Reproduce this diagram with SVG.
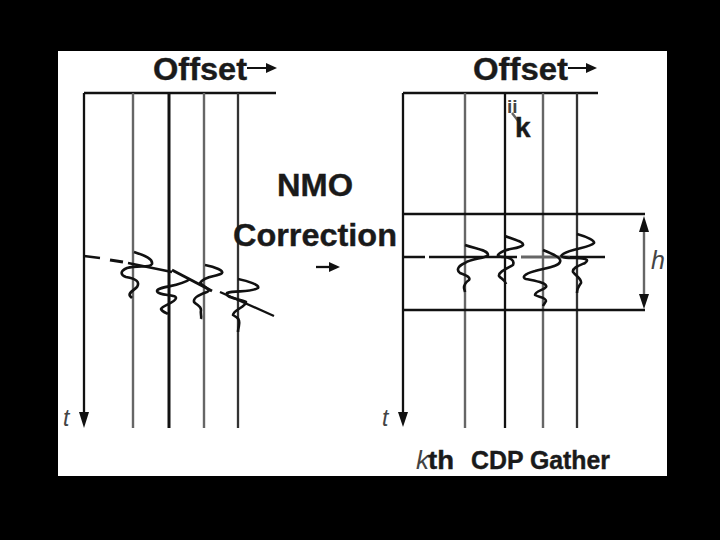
<svg xmlns="http://www.w3.org/2000/svg" width="720" height="540" viewBox="0 0 720 540">
<style>
.t{font-family:"Liberation Sans",Arial,sans-serif;font-weight:bold;fill:#1a1a1a;stroke:#1a1a1a;stroke-width:.4}
.i{font-family:"Liberation Sans",Arial,sans-serif;font-style:italic;fill:#444}
.l{stroke:#111;stroke-width:2.3;fill:none}
.g{stroke:#666;stroke-width:2.4;fill:none}
.w{stroke:#111;stroke-width:2.6;fill:none;stroke-linejoin:round}
.a{fill:#111}
</style>
<rect width="720" height="540" fill="#000"/>
<rect x="58" y="51" width="609" height="425" fill="#fff"/>
<g id="left-panel">
<path class="l" d="M84 93H276"/>
<path class="l" d="M84 93V415"/>
<path class="a" d="M79 412H89L84 428Z"/>
<path class="g" d="M133 93V428"/>
<path class="l" d="M169 93V428" style="stroke-width:3"/>
<path class="g" d="M204 93V428"/>
<path class="l" d="M238 93V428" style="stroke:#333"/>
<text class="t" x="153" y="80" font-size="32" textLength="94" lengthAdjust="spacingAndGlyphs">Offset</text>
<path class="l" d="M247 68H268" style="stroke-width:2"/><path class="a" d="M266 63L277 68L266 73Z"/>
<text class="i" x="63" y="426" font-size="23">t</text>
</g>
<g id="left-wiggles">
<path class="l" d="M84 256L100 258"/>
<path class="l" d="M110 260L123 262" style="stroke-width:3"/>
<path class="l" d="M128 263L172 272"/>
<path class="l" d="M172 270L212 291" style="stroke-width:3"/>
<path class="l" d="M220 292L274 316"/>
<path class="w" d="M134 252C146 256 153 259 152 264C150 268 138 265 127 268C120 271 120 275 126 277C137 279 140 282 137 287C133 291 128 293 130 296L132 298"/>
<path class="w" d="M190 279C180 287 158 286 157 291C158 296 176 294 176 298C175 303 163 305 161 309C162 312 167 313 168 314"/>
<path class="w" d="M205 265C216 267 224 271 222 273C218 277 205 275 200 283C205 288 212 289 207 292C198 295 193 298 194 302C198 306 201 306 201 310C200 314 202 316 201 319"/>
<path class="w" d="M238 279C248 281 260 285 258 288C250 293 235 290 227 293C225 298 238 298 246 302C246 307 233 310 233 315C238 318 240 319 239 325C239 327 238 329 238 332"/>
</g>
<g id="label">
<text class="t" x="277" y="196" font-size="32" textLength="76" lengthAdjust="spacingAndGlyphs">NMO</text>
<text class="t" x="233" y="246" font-size="32" textLength="164" lengthAdjust="spacingAndGlyphs">Correction</text>
<path class="l" d="M316 267H332"/><path class="a" d="M329 262L340 267L329 272Z"/>
</g>
<g id="right-panel">
<path class="l" d="M403 93H598"/>
<path class="l" d="M403 93V414"/>
<path class="a" d="M398 412H408L403 427Z"/>
<path class="g" d="M465 93V428"/>
<path class="l" d="M505 93V428"/>
<path class="g" d="M543 93V428"/>
<path class="l" d="M577 93V428" style="stroke:#333"/>
<text class="t" x="473" y="80" font-size="32" textLength="95" lengthAdjust="spacingAndGlyphs">Offset</text>
<path class="l" d="M568 68H589" style="stroke-width:2"/><path class="a" d="M586 63L597 68L586 73Z"/>
<text x="507" y="113" font-family="Liberation Sans,sans-serif" font-weight="bold" font-size="19" fill="#444">ii</text>
<path class="g" d="M512 113L519 122"/>
<text class="t" x="515" y="137" font-size="28">k</text>
<text class="i" x="382" y="426" font-size="23">t</text>
<text class="i" x="416" y="469" font-size="25" textLength="13" lengthAdjust="spacingAndGlyphs">k</text>
<text class="t" x="428" y="469" font-size="25" textLength="26" lengthAdjust="spacingAndGlyphs">th</text>
<text class="t" x="471" y="469" font-size="25" textLength="139" lengthAdjust="spacingAndGlyphs">CDP Gather</text>
</g>
<g id="right-band">
<path class="l" d="M403 214H645"/>
<path class="l" d="M403 310H645"/>
<path class="g" d="M644 225V298"/>
<path class="a" d="M639 232L644 216L649 232Z"/>
<path class="a" d="M639 294L644 309L649 294Z"/>
<text class="i" x="651" y="269" font-size="25">h</text>
</g>
<g id="right-wiggles">
<path class="l" d="M403 257H425M429 257H462"/>
<path class="l" d="M462 257H517" style="stroke-width:2.6"/>
<path class="g" d="M521 257H570" style="stroke-width:3"/>
<path class="l" d="M570 257H605"/>
<path class="w" d="M465 245C476 249 488 250 488 255C485 259 472 258 465 263C458 266 456 270 460 273C465 275 471 277 469 280C466 282 464 284 464 288L465 292"/>
<path class="w" d="M505 236C515 240 524 242 523 245C518 250 508 247 500 253C496 256 498 257 505 257C510 258 515 260 513 265C508 268 498 272 499 276C501 279 505 279 506 284"/>
<path class="w" d="M543 250C553 254 562 258 560 262C558 267 545 268 535 271C523 274 522 278 526 279C535 281 548 283 546 287C544 290 535 291 535 295C538 297 546 297 546 301C545 303 544 304 543 306"/>
<path class="w" d="M577 234C588 237 595 241 594 243C590 248 572 248 563 254C558 257 565 258 577 258C585 259 590 259 585 263C578 266 572 268 573 272C576 276 582 279 581 283C578 287 577 289 577 293"/>
</g>
</svg>
